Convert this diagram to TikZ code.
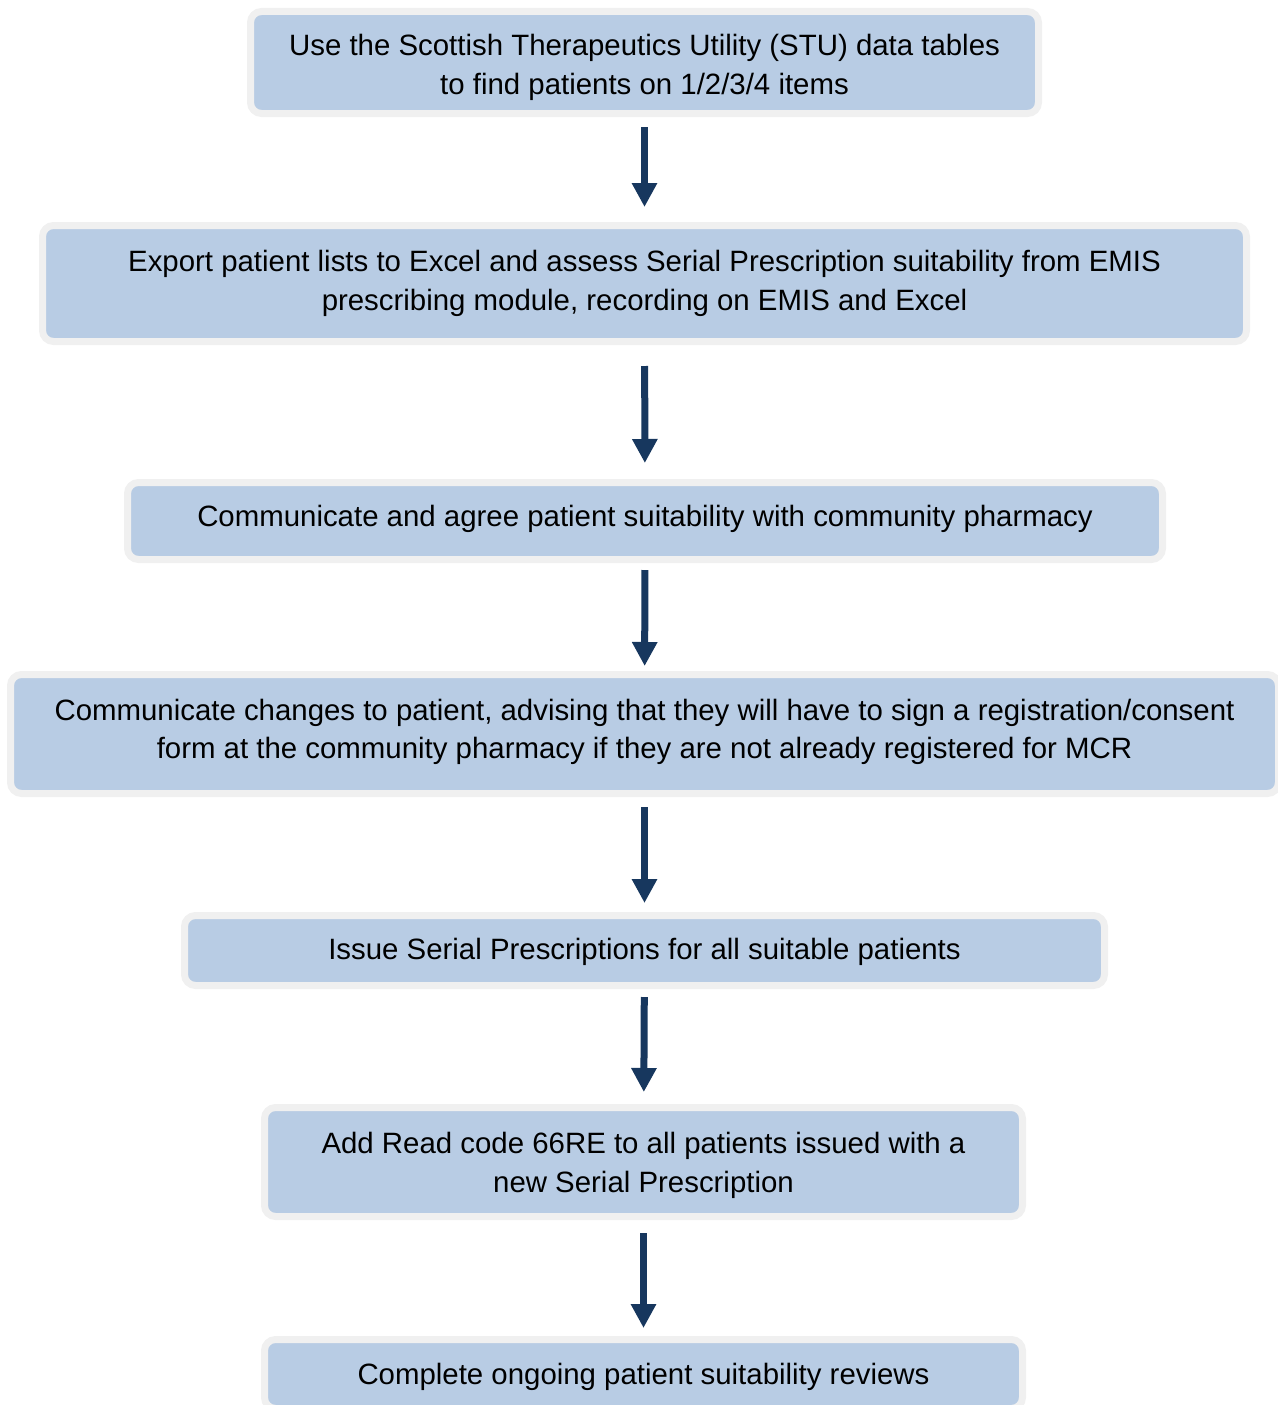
\documentclass[tikz,border=0pt]{standalone}
\usepackage{fontspec}
\setmainfont{Liberation Sans}
\usetikzlibrary{arrows.meta}
\definecolor{boxblue}{HTML}{B8CCE4}
\definecolor{boxrim}{HTML}{F0F0F0}
\definecolor{arrnavy}{HTML}{17375E}
\tikzset{
  stepbox/.style={draw=boxrim, line width=7pt, fill=boxblue, rounded corners=11pt,
    inner sep=0pt},
  steptext/.style={inner sep=0pt, align=center, font=\fontsize{29.4}{39}\selectfont},
  flowarr/.style={draw=arrnavy, line width=7pt, -{Triangle[width=24pt,length=24pt]}}
}
\begin{document}
\begin{tikzpicture}[x=1pt,y=-1pt]
\useasboundingbox (0,0) rectangle (1277,1405);
\node[stepbox, minimum width=788pt, minimum height=102pt] (b1) at (644.5,62.5) {};
\node[steptext] (t1) at (644.5,67.5)
  {Use the Scottish Therapeutics Utility (STU) data tables\\to find patients on 1/2/3/4 items};
\node[stepbox, minimum width=1204pt, minimum height=116pt] (b2) at (644.5,283.5) {};
\node[steptext] (t2) at (644.5,283.5)
  {Export patient lists to Excel and assess Serial Prescription suitability from EMIS\\prescribing module, recording on EMIS and Excel};
\node[stepbox, minimum width=1035pt, minimum height=77pt] (b3) at (645,521) {};
\node[steptext] (t3) at (645,519)
  {Communicate and agree patient suitability with community pharmacy};
\node[stepbox, minimum width=1268pt, minimum height=119pt] (b4) at (644.5,734) {};
\node[steptext, font=\fontsize{29.4}{38}\selectfont] (t4) at (644.5,731.5)
  {Communicate changes to patient, advising that they will have to sign a registration/consent\\form at the community pharmacy if they are not already registered for MCR};
\node[stepbox, minimum width=920pt, minimum height=70pt] (b5) at (644.5,950.5) {};
\node[steptext] (t5) at (644.5,951.5)
  {Issue Serial Prescriptions for all suitable patients};
\node[stepbox, minimum width=758pt, minimum height=109pt] (b6) at (643.5,1162) {};
\node[steptext] (t6) at (643.5,1165)
  {Add Read code 66RE to all patients issued with a\\new Serial Prescription};
\node[stepbox, minimum width=758pt, minimum height=69pt] (b7) at (643.5,1374) {};
\node[steptext] (t7) at (643.5,1377)
  {Complete ongoing patient suitability reviews};
\draw[flowarr, shorten <=10pt, shorten >=15pt] (b1) -- (b2);
\draw[flowarr, shorten <=21pt, shorten >=16pt] (b2) -- (b3);
\draw[flowarr, shorten <=7pt, shorten >=5pt] (b3) -- (b4);
\draw[flowarr, shorten <=10pt, shorten >=9pt] (b4) -- (b5);
\draw[flowarr, shorten <=8pt, shorten >=12pt] (b5) -- (b6);
\draw[flowarr, shorten <=13pt, shorten >=8pt] (b6) -- (b7);
\end{tikzpicture}
\end{document}
